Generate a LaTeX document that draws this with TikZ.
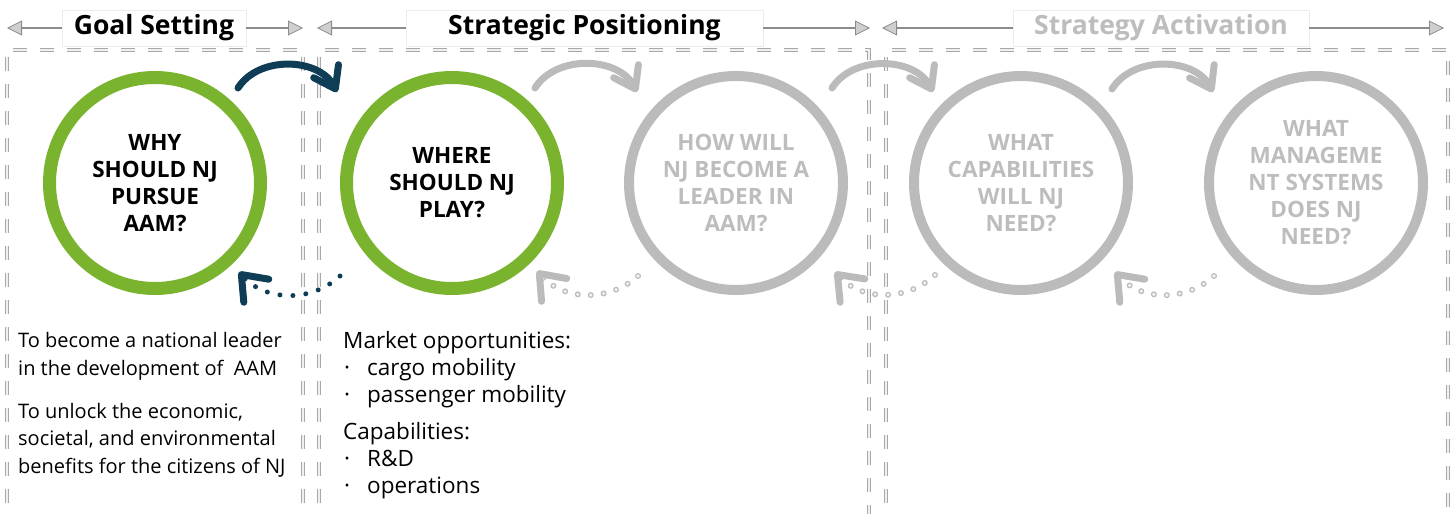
\documentclass[tikz,border=0pt]{standalone}
\usepackage{fontspec}
\setmainfont{Open Sans}
\usetikzlibrary{positioning}
\usetikzlibrary{calc}
\usetikzlibrary{arrows.meta}

\definecolor{aamgreen}{HTML}{7AB32E}
\definecolor{aamnavy}{HTML}{0F3D56}
\definecolor{ringgray}{HTML}{BBBBBB}
\definecolor{fadedtext}{HTML}{BDBDBD}
\definecolor{panelgray}{HTML}{A8A8A8}
\definecolor{linegray}{HTML}{8C8C8C}
\definecolor{tipgray}{HTML}{CFCFCF}

\newcommand{\bul}{\makebox[24pt][l]{\hspace{1pt}·}}

\begin{document}
\begin{tikzpicture}[
    x=1pt, y=-1pt,
    ring/.style={circle, inner sep=0pt, outer sep=0pt, align=center,
      font=\bfseries\fontsize{22.5}{27}\selectfont},
    greenring/.style={ring, draw=aamgreen, line width=13pt, minimum size=211pt},
    grayring/.style={ring, draw=ringgray, line width=10pt, minimum size=214pt,
      text=fadedtext},
    phasebox/.style={draw=gray!15, fill=white, minimum height=36pt, inner sep=0pt,
      font=\bfseries\fontsize{26.5}{26.5}\selectfont},
    phasearrow/.style={draw=linegray, line width=1.5pt,
      -{Triangle[length=15pt, width=15pt, fill=tipgray, line width=0.8pt]}},
    panel/.style={draw=panelgray, line width=0.7pt, double=gray!12,
      double distance=2.5pt, dash pattern=on 14pt off 13pt},
    fwnavy/.style={draw=aamnavy, line width=7pt, line cap=round,
      -{Straight Barb[length=20pt, width=28pt, line width=7pt, round]}},
    fwgray/.style={fwnavy, draw=ringgray},
    backnavy/.style={draw=aamnavy, line width=5pt, line cap=round,
      dash pattern=on 0pt off 13pt,
      -{Straight Barb[length=22pt, width=34pt, line width=7pt, round]}},
    backgray/.style={draw=ringgray, line width=1.2pt, double=gray!10,
      double distance=3.6pt, line cap=round, dash pattern=on 0pt off 13pt,
      -{Straight Barb[length=22pt, width=34pt, line width=7pt, round]}},
    goaltext/.style={anchor=base west, align=left, inner sep=0pt,
      font=\fontsize{20}{27.5}\selectfont},
    marktext/.style={anchor=base west, align=left, inner sep=0pt,
      font=\fontsize{22.5}{27}\selectfont}]
    \useasboundingbox (0,0) rectangle (1452,514);

    % Riquadri tratteggiati delle tre fasi
    \draw[panel] (7,530) -- (7,50) -- (303,50) -- (303,530);
    \draw[panel] (319,530) -- (319,50) -- (869,50) -- (869,530);
    \draw[panel] (886,530) -- (886,50) -- (1448,50) -- (1448,530);

    % Intestazioni con frecce
    \node[phasebox, minimum width=184pt] (goal) at (154,28) {Goal Setting};
    \node[phasebox, minimum width=357pt] (strat) at (584.5,28) {Strategic Positioning};
    \node[phasebox, minimum width=296pt, text=fadedtext] (activ) at (1161,28) {Strategy Activation};
    \coordinate (goalL) at (7,28);
    \coordinate (goalR) at (303,28);
    \coordinate (stratL) at (317,28);
    \coordinate (stratR) at (870,28);
    \coordinate (activL) at (882,28);
    \coordinate (activR) at (1444,28);
    \draw[phasearrow] (goal) -- (goalL);
    \draw[phasearrow] (goal) -- (goalR);
    \draw[phasearrow] (strat) -- (stratL);
    \draw[phasearrow] (strat) -- (stratR);
    \draw[phasearrow] (activ) -- (activL);
    \draw[phasearrow] (activ) -- (activR);

    % Cerchi delle domande
    \node[greenring] (why) at (155,183) {WHY\\SHOULD NJ\\PURSUE\\AAM?};
    \node[greenring, right=86pt of why] (where) {WHERE\\SHOULD NJ\\PLAY?};
    \node[grayring, right=71.5pt of where] (how) {HOW WILL\\NJ BECOME A\\LEADER IN\\AAM?};
    \node[grayring, right=71pt of how] (capab) {WHAT\\CAPABILITIES\\WILL NJ\\NEED?};
    \node[grayring, right=81pt of capab] (mgmt) {WHAT\\MANAGEME\\NT SYSTEMS\\DOES NJ\\NEED?};

    % Frecce in avanti
    \draw[fwnavy] ([shift={(83,-95)}]why.center) to[bend left=60] ([shift={(-115,-91)}]where.center);
    \draw[fwgray] ([shift={(83,-95)}]where.center) to[bend left=60] ([shift={(-99,-91)}]how.center);
    \draw[fwgray] ([shift={(96,-95)}]how.center) to[bend left=60] ([shift={(-88,-91)}]capab.center);
    \draw[fwgray] ([shift={(91,-94)}]capab.center) to[bend left=60] ([shift={(-103,-91)}]mgmt.center);

    % Frecce di ritorno punteggiate
    \draw[backnavy] ([shift={(-112,93)}]where.center) to[bend left=45] ([shift={(84,89)}]why.center);
    \draw[backgray] ([shift={(-98,93)}]how.center) to[bend left=45] ([shift={(85,88)}]where.center);
    \draw[backgray] ([shift={(-86,92)}]capab.center) to[bend left=45] ([shift={(99,89)}]how.center);
    \draw[backgray] ([shift={(-102,93)}]mgmt.center) to[bend left=45] ([shift={(94,89)}]capab.center);

    % Testi sotto i cerchi (ancorati all'ultima riga)
    \node[goaltext] (aim1) at (18,375) {To become a national leader\\in the development of\ \ AAM};
    \node[goaltext] (aim2) at (18,473) {To unlock the economic,\\societal, and environmental\\benefits for the citizens of NJ};
    \node[marktext] (market) at (343,402) {Market opportunities:\\\bul cargo mobility\\\bul passenger mobility};
    \node[marktext] (skills) at (343,493) {Capabilities:\\\bul R\&D\\\bul operations};
\end{tikzpicture}
\end{document}
